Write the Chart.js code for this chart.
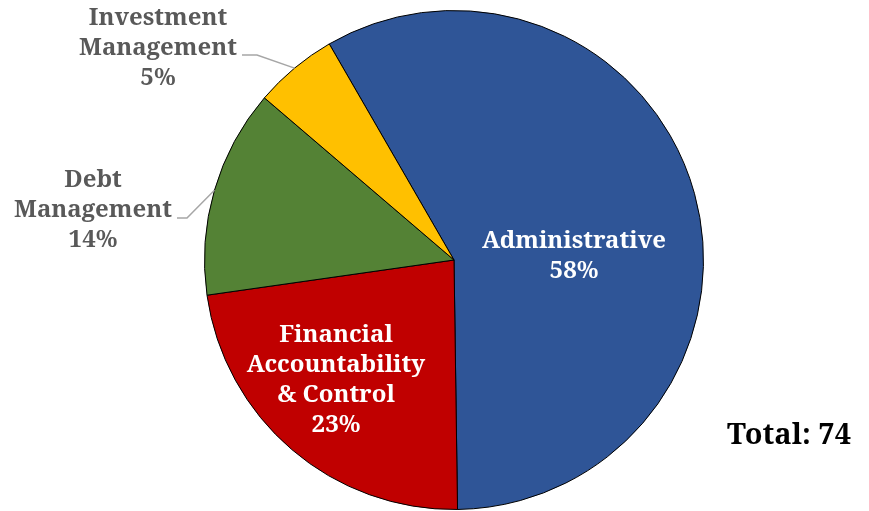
<!DOCTYPE html>
<html><head><meta charset="utf-8">
<script src="https://cdn.jsdelivr.net/npm/chart.js@4"></script>
<style>html,body{margin:0;padding:0;background:#fff;overflow:hidden;}</style>
</head><body><canvas id="c" width="869" height="511"></canvas>
<script>
// Headcount by area
const categories = ['Administrative', 'Financial Accountability & Control', 'Debt Management', 'Investment Management'];
const counts = [43, 17, 10, 4];
const labelLines = [['Administrative'], ['Financial', 'Accountability', '& Control'], ['Debt', 'Management'], ['Investment', 'Management']];
const sliceColors = ['#2F5597', '#C00000', '#548235', '#FFC000'];

const total = counts.reduce((a, b) => a + b, 0);
const pctText = v => Math.round(v / total * 100) + '%';

const FONT = '"Noto Serif", "DejaVu Serif", serif';

// label placement relative to the pie centre: line centre x and first baseline y
const labelStyle = [
  { dx: 120, dy: -12, color: '#FFFFFF', leader: null },
  { dx: -118, dy: 82, color: '#FFFFFF', leader: null },
  { dx: -361, dy: -73, color: '#595959', leader: [-277, -42, -267, -42] },
  { dx: -296, dy: -235, color: '#595959', leader: [-212, -205, -197, -205] }
];

const sliceLabels = {
  id: 'sliceLabels',
  afterDatasetsDraw(chart) {
    const ctx = chart.ctx;
    const arcs = chart.getDatasetMeta(0).data;
    ctx.save();
    arcs.forEach((arc, i) => {
      const p = arc.getProps(['x', 'y', 'startAngle', 'endAngle', 'outerRadius'], true);
      const st = labelStyle[i];
      if (st.leader) {
        // leader line ends on the rim at the slice's mid angle
        const mid = (p.startAngle + p.endAngle) / 2;
        const ex = p.x + Math.cos(mid) * p.outerRadius;
        const ey = p.y + Math.sin(mid) * p.outerRadius;
        ctx.strokeStyle = '#A6A6A6';
        ctx.lineWidth = 1.5;
        ctx.beginPath();
        ctx.moveTo(p.x + st.leader[0], p.y + st.leader[1]);
        ctx.lineTo(p.x + st.leader[2], p.y + st.leader[3]);
        ctx.lineTo(ex, ey);
        ctx.stroke();
      }
      const lines = labelLines[i].concat([pctText(counts[i])]);
      ctx.fillStyle = st.color;
      ctx.font = 'bold 24px ' + FONT;
      ctx.textAlign = 'center';
      ctx.textBaseline = 'alphabetic';
      lines.forEach((t, k) => ctx.fillText(t, p.x + st.dx, p.y + st.dy + k * 30));
    });
    // total caption
    ctx.fillStyle = '#000000';
    ctx.font = 'bold 29px ' + FONT;
    ctx.textAlign = 'center';
    ctx.fillText('Total: ' + total, 789, 444);
    ctx.restore();
  }
};

new Chart(document.getElementById('c'), {
  type: 'pie',
  data: {
    labels: categories,
    datasets: [{
      data: counts,
      backgroundColor: sliceColors,
      borderColor: '#000000',
      borderWidth: 1
    }]
  },
  options: {
    responsive: false,
    animation: false,
    rotation: -30,
    layout: { padding: { left: 204, right: 165, top: 10, bottom: 1 } },
    plugins: { legend: { display: false }, tooltip: { enabled: false } }
  },
  plugins: [sliceLabels]
});
</script>
</body></html>
